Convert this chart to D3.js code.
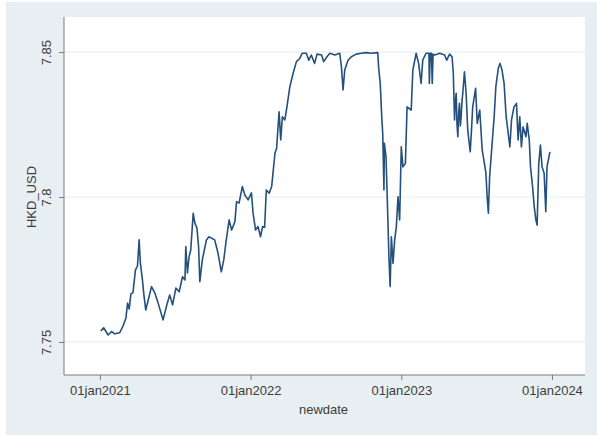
<!DOCTYPE html>
<html>
<head>
<meta charset="utf-8">
<script src="https://cdn.jsdelivr.net/npm/d3@7"></script>
<style>
  html, body { margin: 0; padding: 0; background: #ffffff; }
  svg { display: block; }
  text { font-family: "Liberation Sans", Arial, sans-serif; fill: #3c3c3c; }
</style>
</head>
<body>
<svg id="chart" width="597" height="437"></svg>
<script>
// HKD per USD exchange rate, 2021-2023
const dates = [
  "2021-01-03","2021-01-10","2021-01-21","2021-01-29","2021-02-06","2021-02-18","2021-02-26",
  "2021-03-05","2021-03-09","2021-03-13","2021-03-17","2021-03-22","2021-03-28","2021-04-02",
  "2021-04-06","2021-04-09","2021-04-14","2021-04-17","2021-04-22","2021-04-30","2021-05-06",
  "2021-05-14","2021-05-22","2021-06-03","2021-06-11","2021-06-19","2021-06-26","2021-07-04",
  "2021-07-12","2021-07-20","2021-07-26","2021-07-28","2021-08-01","2021-08-05","2021-08-09",
  "2021-08-15","2021-08-19","2021-08-24","2021-08-28","2021-08-31","2021-09-06","2021-09-16",
  "2021-09-22","2021-10-06","2021-10-14","2021-10-22","2021-10-28","2021-11-02","2021-11-10",
  "2021-11-16","2021-11-24","2021-11-28","2021-12-04","2021-12-12","2021-12-18","2021-12-26",
  "2022-01-03","2022-01-07","2022-01-13","2022-01-19","2022-01-25","2022-01-30","2022-02-04",
  "2022-02-08","2022-02-15","2022-02-21","2022-03-01","2022-03-05","2022-03-11","2022-03-15",
  "2022-03-19","2022-03-25","2022-03-30","2022-04-06","2022-04-14","2022-04-22","2022-04-30",
  "2022-05-06","2022-05-16","2022-05-22","2022-05-28","2022-06-05","2022-06-11","2022-06-22",
  "2022-06-27","2022-07-05","2022-07-12","2022-07-24","2022-08-05","2022-08-09","2022-08-13",
  "2022-08-17","2022-08-25","2022-09-02","2022-09-14","2022-09-26","2022-10-08","2022-10-20",
  "2022-11-05","2022-11-07","2022-11-11","2022-11-15","2022-11-17","2022-11-20","2022-11-21",
  "2022-11-25","2022-11-30","2022-12-02","2022-12-05","2022-12-08","2022-12-12","2022-12-16",
  "2022-12-20","2022-12-24","2022-12-28",
  "2023-01-01","2023-01-05","2023-01-11","2023-01-15","2023-01-25","2023-01-29","2023-02-06",
  "2023-02-12","2023-02-18","2023-02-22","2023-03-02","2023-03-09","2023-03-10","2023-03-12",
  "2023-03-15","2023-03-17","2023-03-19","2023-03-23","2023-04-04","2023-04-16","2023-04-21",
  "2023-04-28","2023-05-04","2023-05-07","2023-05-10","2023-05-12","2023-05-14","2023-05-16",
  "2023-05-18","2023-05-20","2023-05-22","2023-05-24","2023-05-26","2023-05-28","2023-05-30",
  "2023-06-03","2023-06-07","2023-06-11","2023-06-17","2023-06-20","2023-06-23",
  "2023-06-30","2023-07-04","2023-07-10","2023-07-16","2023-07-20","2023-07-25","2023-07-28",
  "2023-07-31","2023-08-03","2023-08-09","2023-08-14","2023-08-18","2023-08-24","2023-08-28",
  "2023-09-02","2023-09-07","2023-09-12","2023-09-17","2023-09-21","2023-09-25","2023-10-01",
  "2023-10-07","2023-10-11","2023-10-15","2023-10-19","2023-10-23","2023-10-30","2023-11-02",
  "2023-11-07","2023-11-10","2023-11-15","2023-11-19","2023-11-23","2023-11-26","2023-11-30",
  "2023-12-04","2023-12-08","2023-12-13","2023-12-17","2023-12-20","2023-12-27"
];

const rates = [
  7.7538,7.7549,7.7524,7.7536,7.7528,7.7532,7.7555,
  7.7583,7.7634,7.7614,7.7666,7.7670,7.7748,7.7762,
  7.7852,7.7772,7.7714,7.7669,7.7610,7.7656,7.7691,
  7.7669,7.7634,7.7576,7.7622,7.7662,7.7628,7.7686,
  7.7673,7.7725,7.7714,7.7829,7.7738,7.7794,7.7817,
  7.7944,7.7910,7.7893,7.7829,7.7708,7.7783,7.7852,
  7.7863,7.7852,7.7807,7.7742,7.7783,7.7841,7.7921,
  7.7886,7.7915,7.7984,7.7979,7.8036,7.8007,7.7990,
  7.8014,7.7944,7.7886,7.7898,7.7863,7.7898,7.7896,
  7.8024,7.8013,7.8036,7.8151,7.8168,7.8294,7.8197,
  7.8277,7.8266,7.8311,7.8380,7.8427,7.8467,7.8478,
  7.8496,7.8496,7.8472,7.8490,7.8461,7.8493,7.8490,
  7.8467,7.8484,7.8496,7.8490,7.8496,7.8449,7.8369,
  7.8438,7.8472,7.8484,7.8493,7.8496,7.8498,7.8496,
  7.8498,7.8449,7.8392,7.8266,7.8220,7.8024,7.8185,
  7.8139,7.7898,7.7794,7.7691,7.7863,7.7771,7.7852,
  7.7898,7.8001,7.7921,
  7.8173,7.8104,7.8116,7.8311,7.8300,7.8438,7.8496,
  7.8461,7.8392,7.8472,7.8496,7.8496,7.8392,7.8496,
  7.8496,7.8392,7.8493,7.8490,7.8496,7.8490,7.8472,
  7.8493,7.8484,7.8427,7.8266,7.8330,7.8358,7.8250,
  7.8208,7.8290,7.8323,7.8245,7.8277,7.8330,7.8358,
  7.8432,7.8358,7.8231,7.8156,7.8230,7.8311,
  7.8375,7.8254,7.8300,7.8162,7.8128,7.8082,7.8001,
  7.7944,7.8070,7.8185,7.8277,7.8380,7.8444,7.8461,
  7.8438,7.8392,7.8277,7.8220,7.8173,7.8266,7.8311,
  7.8323,7.8197,7.8277,7.8173,7.8242,7.8208,7.8254,
  7.8197,7.8104,7.8036,7.7967,7.7921,7.7903,7.8116,
  7.8179,7.8104,7.8082,7.7949,7.8104,7.8156
];

const yTicks = [7.75, 7.8, 7.85];
const xTicks = ["2021-01-01", "2022-01-01", "2023-01-01", "2024-01-01"];
const xTickLabels = ["01jan2021", "01jan2022", "01jan2023", "01jan2024"];
const yTitle = "HKD_USD";
const xTitle = "newdate";

const parse = d3.utcParse("%Y-%m-%d");
const series = dates.map((d, i) => ({ date: parse(d), value: rates[i] }));

const svg = d3.select("#chart");
const W = 597, H = 437;

// outer graph region
svg.append("rect")
  .attr("x", 6).attr("y", 2).attr("width", W - 6).attr("height", 433)
  .attr("fill", "#e8eff2");

// plot region
const plot = { left: 64, right: 585, top: 17, bottom: 375 };
svg.append("rect")
  .attr("x", plot.left).attr("y", plot.top)
  .attr("width", plot.right - plot.left).attr("height", plot.bottom - plot.top)
  .attr("fill", "#ffffff");

const x = d3.scaleUtc()
  .domain([parse("2020-10-06"), parse("2024-03-21")])
  .range([plot.left, plot.right]);

const y = d3.scaleLinear()
  .domain([7.7386, 7.8621])
  .range([plot.bottom, plot.top]);

// horizontal gridlines
svg.append("g")
  .selectAll("line")
  .data(yTicks)
  .join("line")
  .attr("x1", plot.left).attr("x2", plot.right)
  .attr("y1", d => y(d)).attr("y2", d => y(d))
  .attr("stroke", "#e6eff1").attr("stroke-width", 1.2);

// y axis
const yAxis = svg.append("g")
  .attr("transform", `translate(${plot.left},0)`)
  .call(d3.axisLeft(y).tickValues(yTicks).tickFormat(d => String(d)).tickSize(5).tickPadding(4));
yAxis.select(".domain")
  .attr("d", `M0,${plot.top}V${plot.bottom}`)
  .attr("stroke", "#7a7a7a");
yAxis.selectAll(".tick line").attr("stroke", "#7a7a7a");
yAxis.selectAll(".tick text")
  .attr("font-size", 13)
  .attr("fill", "#3c3c3c")
  .attr("text-anchor", "middle")
  .attr("x", null).attr("dy", null)
  .attr("transform", "translate(-16,0) rotate(-90)")
  .attr("dominant-baseline", "middle");

// x axis
const xAxis = svg.append("g")
  .attr("transform", `translate(0,${plot.bottom})`)
  .call(d3.axisBottom(x).tickValues(xTicks.map(parse))
    .tickFormat((d, i) => xTickLabels[i]).tickSize(5).tickPadding(6));
xAxis.select(".domain")
  .attr("d", `M${plot.left},0H${plot.right}`)
  .attr("stroke", "#7a7a7a");
xAxis.selectAll(".tick line").attr("stroke", "#7a7a7a");
xAxis.selectAll(".tick text")
  .attr("font-size", 13)
  .attr("fill", "#3c3c3c");

// axis titles
svg.append("text")
  .attr("transform", `translate(36,${(plot.top + plot.bottom) / 2 + 1}) rotate(-90)`)
  .attr("text-anchor", "middle")
  .attr("font-size", 13)
  .text(yTitle);

svg.append("text")
  .attr("x", (plot.left + plot.right) / 2 - 1)
  .attr("y", 414)
  .attr("text-anchor", "middle")
  .attr("font-size", 13)
  .text(xTitle);

// rate line
const line = d3.line()
  .x(d => x(d.date))
  .y(d => y(d.value));

svg.append("path")
  .datum(series)
  .attr("d", line)
  .attr("fill", "none")
  .attr("stroke", "#25507c")
  .attr("stroke-width", 1.6)
  .attr("stroke-linejoin", "round");
</script>
</body>
</html>
